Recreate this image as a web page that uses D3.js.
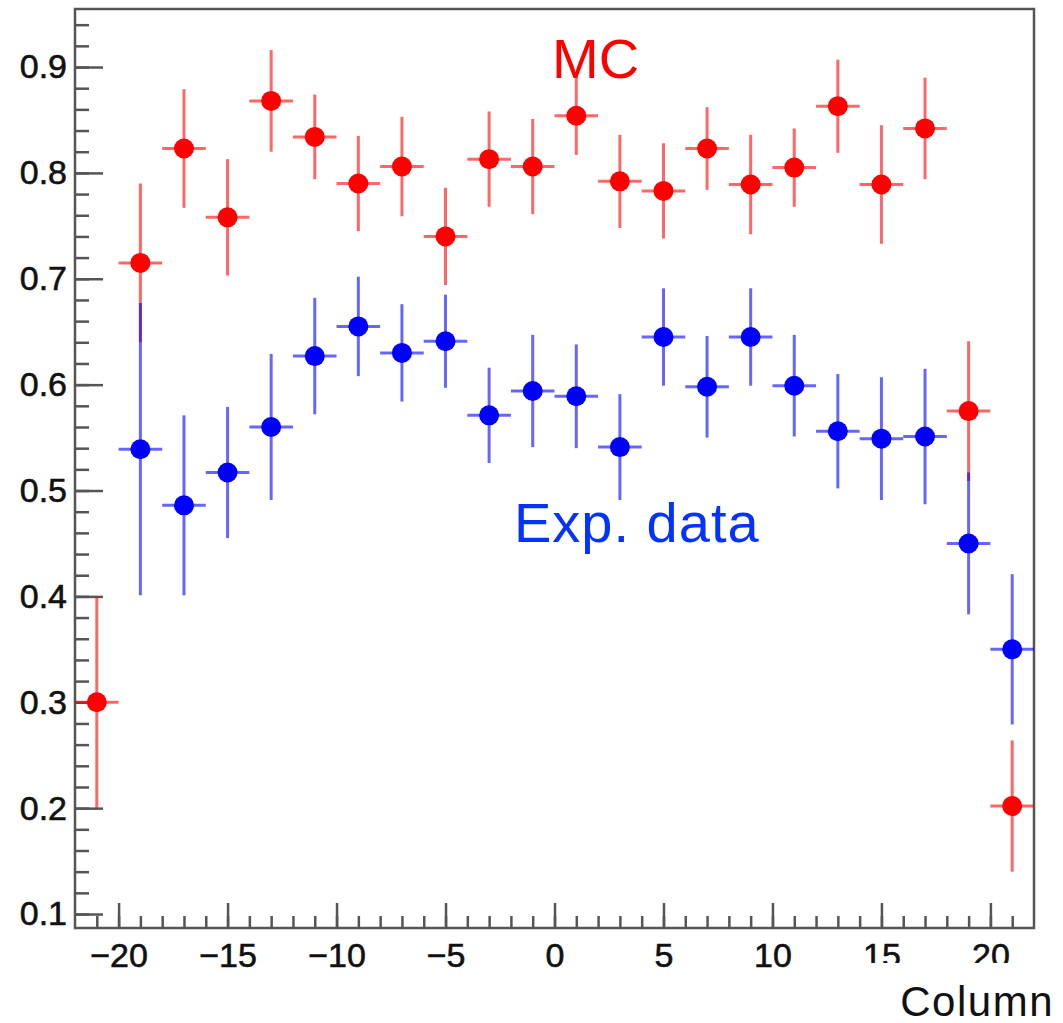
<!DOCTYPE html>
<html>
<head>
<meta charset="utf-8">
<script src="https://cdn.jsdelivr.net/npm/d3@7"></script>
<style>
  body { margin: 0; background: #fff; }
  svg { display: block; font-family: "Liberation Sans", Arial, Helvetica, sans-serif; }
</style>
</head>
<body>
<div id="chart"></div>
<script>
// column bins (centre of each 2-wide bin)
const columns = [-21, -19, -17, -15, -13, -11, -9, -7, -5, -3, -1, 1, 3, 5, 7, 9, 11, 13, 15, 17, 19, 21];
const binHalfWidth = 1;

// MC efficiency and its error
const mcValues = [0.300, 0.715, 0.823, 0.758, 0.868, 0.834, 0.790, 0.806, 0.740, 0.813, 0.806,
                  0.854, 0.792, 0.783, 0.823, 0.789, 0.805, 0.863, 0.789, 0.842, 0.575, 0.202];
const mcErrors = [0.100, 0.075, 0.056, 0.055, 0.048, 0.040, 0.045, 0.047, 0.046, 0.045, 0.045,
                  0.037, 0.044, 0.045, 0.039, 0.047, 0.037, 0.044, 0.056, 0.048, 0.066, 0.062];

// experimental data (no point in the first column)
const dataColumns = columns.slice(1);
const dataValues = [0.539, 0.486, 0.517, 0.560, 0.627, 0.655, 0.630, 0.641, 0.571, 0.594,
                    0.589, 0.541, 0.645, 0.598, 0.645, 0.599, 0.556, 0.549, 0.551, 0.450, 0.350];
const dataErrors = [0.138, 0.085, 0.062, 0.069, 0.055, 0.047, 0.046, 0.044, 0.045, 0.053,
                    0.049, 0.050, 0.046, 0.048, 0.046, 0.048, 0.054, 0.058, 0.064, 0.067, 0.071];

const xMajorTicks = [-20, -15, -10, -5, 0, 5, 10, 15, 20];
const yMajorTicks = [0.1, 0.2, 0.3, 0.4, 0.5, 0.6, 0.7, 0.8, 0.9];

const width = 1063, height = 1023;
const frameLeft = 75, frameRight = 1034, frameTop = 9, frameBottom = 928;

const svg = d3.select('#chart').append('svg')
    .attr('width', width)
    .attr('height', height);

const x = d3.scaleLinear().domain([-22, 22]).range([frameLeft, frameRight]);
const y = d3.scaleLinear().domain([0.0868, 0.9548]).range([frameBottom, frameTop]);

const axisColor = '#555';

// y axis: ticks point into the frame
svg.append('g')
    .attr('transform', `translate(${frameLeft},0)`)
    .call(d3.axisLeft(y).tickValues(yMajorTicks).tickSize(-28).tickPadding(8).tickFormat(d3.format('.1f')));
svg.append('g')
    .attr('transform', `translate(${frameLeft},0)`)
    .call(d3.axisLeft(y).tickValues(d3.range(0.1, 0.95, 0.02).filter(v => y(v) >= frameTop)).tickSize(-14).tickFormat(''));

// x axis
svg.append('g')
    .attr('transform', `translate(0,${frameBottom})`)
    .call(d3.axisBottom(x).tickValues(xMajorTicks).tickSize(-25).tickPadding(15));
svg.append('g')
    .attr('transform', `translate(0,${frameBottom})`)
    .call(d3.axisBottom(x).tickValues(d3.range(-21, 22, 1)).tickSize(-12).tickFormat(''));

svg.selectAll('.domain').remove();
svg.selectAll('.tick line').attr('stroke', axisColor).attr('stroke-width', 2.5);
svg.selectAll('.tick text')
    .attr('font-size', 34)
    .attr('font-family', '"Liberation Sans", Arial, sans-serif')
    .attr('fill', '#111')
    .attr('stroke', '#111')
    .attr('stroke-width', 0.6);

// frame
svg.append('rect')
    .attr('x', frameLeft).attr('y', frameTop)
    .attr('width', frameRight - frameLeft).attr('height', frameBottom - frameTop)
    .attr('fill', 'none')
    .attr('stroke', axisColor)
    .attr('stroke-width', 2.5);

// one series = error bars + markers
function drawSeries(cols, vals, errs, markColor, barColor) {
    const pts = cols.map((c, i) => ({c: c, v: vals[i], e: errs[i]}));
    const g = svg.append('g');
    g.selectAll('.ex').data(pts).enter().append('line')
        .attr('x1', d => x(d.c - binHalfWidth)).attr('x2', d => x(d.c + binHalfWidth))
        .attr('y1', d => y(d.v)).attr('y2', d => y(d.v))
        .attr('stroke', barColor).attr('stroke-width', 3);
    g.selectAll('.ey').data(pts).enter().append('line')
        .attr('x1', d => x(d.c)).attr('x2', d => x(d.c))
        .attr('y1', d => y(d.v + d.e)).attr('y2', d => y(d.v - d.e))
        .attr('stroke', barColor).attr('stroke-width', 3);
    g.selectAll('circle').data(pts).enter().append('circle')
        .attr('cx', d => x(d.c)).attr('cy', d => y(d.v))
        .attr('r', 10)
        .attr('fill', markColor);
}

drawSeries(columns, mcValues, mcErrors, '#ff0000', 'rgba(255,0,0,0.6)');
drawSeries(dataColumns, dataValues, dataErrors, '#0000ff', 'rgba(0,0,255,0.6)');

// labels
svg.append('text')
    .attr('x', 552).attr('y', 78)
    .attr('font-size', 56)
    .attr('fill', '#ff0000')
    .text('MC');

svg.append('text')
    .attr('x', 514).attr('y', 542)
    .attr('font-size', 56)
    .attr('letter-spacing', 1)
    .attr('fill', '#0433ff')
    .text('Exp. data');

// box of the axis title cuts the last tick labels
svg.append('rect')
    .attr('x', 856).attr('y', 963)
    .attr('width', width - 856).attr('height', height - 963)
    .attr('fill', '#fff');

svg.append('text')
    .attr('x', 1054).attr('y', 1016)
    .attr('text-anchor', 'end')
    .attr('font-size', 42)
    .attr('letter-spacing', 1.5)
    .attr('fill', '#111')
    .text('Column');
</script>
</body>
</html>
